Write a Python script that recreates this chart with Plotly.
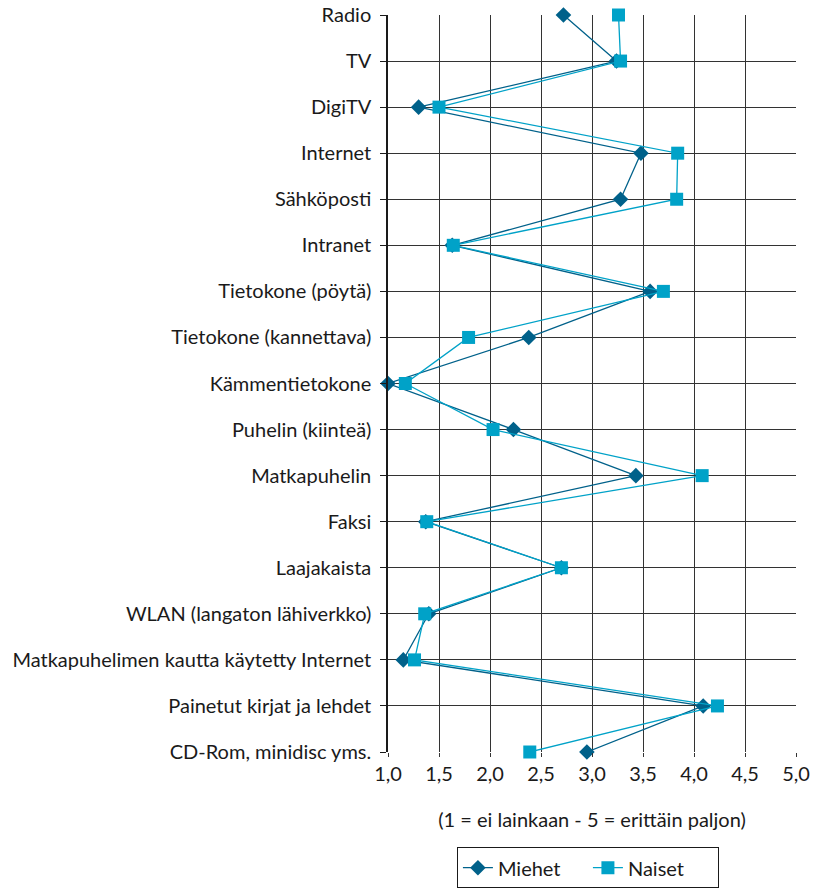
import plotly.graph_objects as go

categories = [
    "Radio", "TV", "DigiTV", "Internet", "Sähköposti", "Intranet",
    "Tietokone (pöytä)", "Tietokone (kannettava)", "Kämmentietokone",
    "Puhelin (kiinteä)", "Matkapuhelin", "Faksi", "Laajakaista",
    "WLAN (langaton lähiverkko)", "Matkapuhelimen kautta käytetty Internet",
    "Painetut kirjat ja lehdet", "CD-Rom, minidisc yms.",
]
miehet = [2.72, 3.24, 1.30, 3.48, 3.28, 1.63, 3.57, 2.38, 1.00, 2.23,
          3.43, 1.37, 2.70, 1.40, 1.15, 4.09, 2.95]
naiset = [3.26, 3.28, 1.50, 3.84, 3.83, 1.64, 3.70, 1.79, 1.17, 2.03,
          4.08, 1.38, 2.70, 1.36, 1.26, 4.23, 2.39]
x_ticks = [1.0, 1.5, 2.0, 2.5, 3.0, 3.5, 4.0, 4.5, 5.0]
x_tick_labels = [f"{v:.1f}".replace(".", ",") for v in x_ticks]

FONT = "Lato"
fig = go.Figure()
fig.add_trace(go.Scatter(
    x=miehet, y=categories, name="Miehet", mode="lines+markers",
    line=dict(color="#00618a", width=1.3),
    marker=dict(symbol="diamond", size=12, color="#00618a"),
    cliponaxis=False,
))
fig.add_trace(go.Scatter(
    x=naiset, y=categories, name="Naiset", mode="lines+markers",
    line=dict(color="#00a2c8", width=1.3),
    marker=dict(symbol="square", size=13, color="#00a2c8"),
    cliponaxis=False,
))

fig.update_layout(
    width=813, height=890,
    margin=dict(l=388, r=17, t=15, b=138, autoexpand=False),
    plot_bgcolor="white", paper_bgcolor="white",
    font=dict(family=FONT, size=20, color="#1a1a1a"),
    showlegend=True,
    legend=dict(
        orientation="h", x=0.49, xref="paper", xanchor="center",
        y=0.002, yref="container", yanchor="bottom",
        bordercolor="#1a1a1a", borderwidth=1, font=dict(size=20),
        entrywidth=85, tracegroupgap=0,
    ),
    xaxis=dict(
        range=[1, 5], tickvals=x_ticks, ticktext=x_tick_labels,
        showgrid=True, gridcolor="#333333", gridwidth=1,
        zeroline=False, showline=False, automargin=False,
        ticks="outside", ticklen=4, tickcolor="#333333",
        title=dict(text="(1 = ei lainkaan - 5 = erittäin paljon)",
                   standoff=28, font=dict(size=20)),
    ),
    yaxis=dict(
        categoryorder="array", categoryarray=categories,
        range=[len(categories) - 1, 0], automargin=False,
        showgrid=True, gridcolor="#333333", gridwidth=1,
        showline=True, linecolor="#1a1a1a", linewidth=1.5,
        ticks="outside", ticklen=6, tickcolor="#1a1a1a",
        ticklabelstandoff=5, zeroline=False,
    ),
)

fig.write_html("out.html")
